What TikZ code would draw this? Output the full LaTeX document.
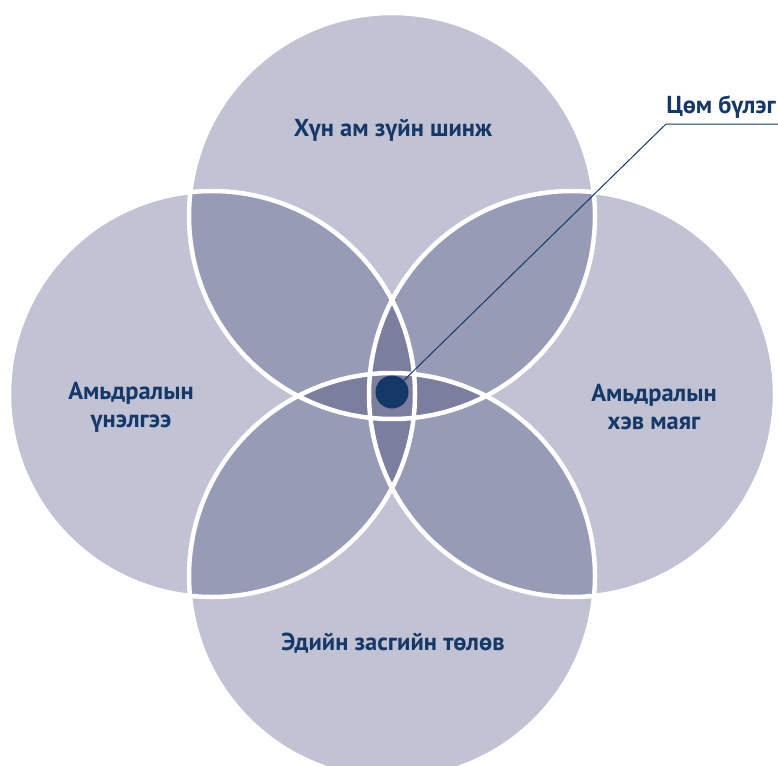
\documentclass[tikz,border=0pt]{standalone}
\usepackage{fontspec}
\setmainfont{PT Sans}
\usepackage{tikz}
\usetikzlibrary{calc}

\definecolor{lightlav}{RGB}{193,194,211}
\definecolor{midlav}{RGB}{152,155,181}
\definecolor{darklav}{RGB}{124,126,158}
\definecolor{navy}{RGB}{22,56,104}

\tikzset{
	label text/.style={text=navy,font=\fontsize{24.5}{28}\selectfont\bfseries,align=center},
	ring/.style={draw=white,line width=4.5pt}
}

\begin{document}
\begin{tikzpicture}[x=1pt,y=-1pt]
		\clip (0,0) rectangle (778,765);
		% circle centres
		\coordinate (top) at (392,216);
		\coordinate (bottom) at (392,576);
		\coordinate (left) at (212,394);
		\coordinate (right) at (572,394);
		\def\rad{203pt}
		% single areas
		\foreach \c in {top,bottom,left,right}
			\fill[lightlav] (\c) circle (\rad);
		% overlaps of neighbours
		\begin{scope}
			\clip (top) circle (\rad);
			\fill[midlav] (left) circle (\rad);
			\fill[midlav] (right) circle (\rad);
		\end{scope}
		\begin{scope}
			\clip (bottom) circle (\rad);
			\fill[midlav] (left) circle (\rad);
			\fill[midlav] (right) circle (\rad);
		\end{scope}
		% centre lenses
		\begin{scope}
			\clip (top) circle (\rad);
			\fill[darklav] (bottom) circle (\rad);
		\end{scope}
		\begin{scope}
			\clip (left) circle (\rad);
			\fill[darklav] (right) circle (\rad);
		\end{scope}
		\foreach \c in {top,bottom,left,right}
			\draw[ring] (\c) circle (\rad);
		% texts
		\node[label text] (demo) at (393,130) {Хүн ам зүйн шинж};
		\node[label text] (eval) at (131,407) {Амьдралын\\үнэлгээ};
		\node[label text] (style) at (654,407) {Амьдралын\\хэв маяг};
		\node[label text] (econ) at (393,643) {Эдийн засгийн төлөв};
		% core
		\node[circle,fill=navy,minimum size=33pt,inner sep=0pt] (core) at (392,392) {};
		\node[label text,anchor=south east,inner sep=2pt] (coreLabel) at (778,121) {Цөм бүлэг};
		\coordinate (bend) at (666,124);
		\draw[navy,line width=1pt] (core) -- (bend) -- (coreLabel.south east |- bend);
	\end{tikzpicture}
\end{document}
